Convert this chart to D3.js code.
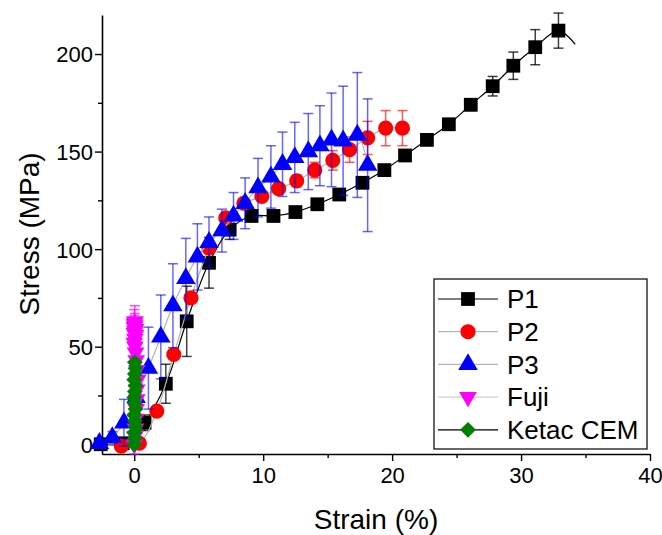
<!DOCTYPE html>
<html>
<head>
<meta charset="utf-8">
<script src="https://cdn.jsdelivr.net/npm/d3@7"></script>
<style>
  body { margin: 0; background: #fff; }
  text { font-family: "Liberation Sans", Arial, sans-serif; }
</style>
</head>
<body>
<div id="chart-container"></div>
<script>
// values (strain %, stress MPa, +/- error)
const p1Strain = [-2.6, -0.9, 0.8, 2.45, 4.07, 5.8, 7.4, 9.1, 10.8, 12.5, 14.2, 15.9, 17.7, 19.4, 21.0, 22.7, 24.4, 26.1, 27.8, 29.4, 31.1, 32.9];
const p1Stress = [0, 0.5, 11, 31, 63, 93, 110, 117, 117, 119, 123, 128, 134, 140.5, 148, 156, 164, 174, 183.5, 194, 203.5, 212];
const p1Err    = [1, 1, 4, 10, 18, 13, 5, 2, 2, 2, 2, 2, 2, 2, 2, 2, 2, 3, 5, 7, 9, 9];
const p1Tail = { strain: 34.2, stress: 205 };

const p2Strain = [-1.0, 0.4, 1.75, 3.07, 4.4, 5.8, 7.1, 8.5, 9.9, 11.2, 12.6, 14.0, 15.4, 16.7, 18.1, 19.5, 20.8];
const p2Stress = [-1, 0.5, 17, 46, 75, 100.5, 116, 123.5, 127, 131, 135, 140.5, 145.5, 151, 157, 162, 162];
const p2Err    = [1, 1, 2, 2, 2, 2, 2, 2, 2, 2, 3, 4, 5, 6.5, 8.5, 9, 9];

const p3Strain = [-2.7, -1.7, -0.8, 0.15, 1.1, 2.06, 3.0, 4.0, 4.9, 5.8, 6.8, 7.7, 8.6, 9.6, 10.6, 11.5, 12.45, 13.5, 14.4, 15.3, 16.2, 17.3, 18.1];
const p3Stress = [0.5, 3.5, 11, 24, 39, 55, 71, 85, 96, 103.5, 109.5, 117, 123.5, 131.5, 137, 143.5, 147, 150, 153, 156, 155.5, 158.5, 143];
const p3Err    = [1, 3, 12, 14, 21, 21.5, 21.5, 20.5, 17, 13, 11, 12, 13, 15, 16, 16.5, 18, 19.5, 20.5, 24, 28, 32, 34];

const fujiStrain = [0.0, 0.05, 0.1, 0.1, 0.15, 0.2, 0.2, 0.25, 0.2, 0.15, 0.1, 0.05, 0.0, 0.05, 0.1, 0.0, 0.05, 0.1, 0.0, 0.05, 0.0, 0.05];
const fujiStress = [0, 4, 8, 13, 18, 23, 28, 33, 38, 43, 47, 50, 52, 54, 56, 57, 58, 59, 60, 61, 62, 63];
const fujiErr    = [5, 2, 2, 2, 2, 2, 2, 2, 2, 2, 3, 3, 3, 4, 4, 4, 5, 5, 6, 6, 7, 8];

const ketacStrain = [0.0, 0.05, 0.0, 0.1, 0.05, 0.0, 0.1, 0.05, 0.0, 0.05, 0.1, 0.0, 0.05, 0.1, 0.05];
const ketacStress = [0, 3, 6, 9, 12, 15, 18, 21, 24, 27, 30, 33, 36, 39, 42];

const xTicks = [0, 10, 20, 30, 40];
const xMinor = [5, 15, 25, 35];
const yTicks = [0, 50, 100, 150, 200];
const yMinor = [25, 75, 125, 175];

const seriesNames = ["P1", "P2", "P3", "Fuji", "Ketac CEM"];

const W = 662, H = 535;
const svg = d3.select("#chart-container")
  .append("svg")
  .attr("width", W)
  .attr("height", H);

const x = d3.scaleLinear().domain([-2.5, 40]).range([102, 650]);
const y = d3.scaleLinear().domain([-5, 220]).range([454, 15]);

const zip = (xs, ys, es) => xs.map((v, i) => ({ x: v, y: ys[i], e: es ? es[i] : 0 }));
const p1 = zip(p1Strain, p1Stress, p1Err);
const p2 = zip(p2Strain, p2Stress, p2Err);
const p3 = zip(p3Strain, p3Stress, p3Err);
const fuji = zip(fujiStrain, fujiStress, fujiErr);
const ketac = zip(ketacStrain, ketacStress, null);

const series = [
  { name: "P1", data: p1, line: p1.concat([{ x: p1Tail.strain, y: p1Tail.stress }]), lineColor: "#000", fill: "#000",
    symbol: d3.symbolSquare, size: 190, rot: 0, errColor: "rgba(0,0,0,0.75)", curve: d3.curveCatmullRom },
  { name: "P2", data: p2, line: p2, lineColor: "#b4b4b4", fill: "#ff0000",
    symbol: d3.symbolCircle, size: 180, rot: 0, errColor: "rgba(255,0,0,0.65)", curve: d3.curveCatmullRom },
  { name: "P3", data: p3, line: p3, lineColor: "#b4b4b4", fill: "#0000ff",
    symbol: d3.symbolTriangle, size: 165, rot: 0, errColor: "rgba(0,0,255,0.6)", curve: d3.curveCatmullRom },
  { name: "Fuji", data: fuji, line: fuji, lineColor: "#d0d0d0", fill: "#ff00ff",
    symbol: d3.symbolTriangle, size: 135, rot: 180, errColor: "rgba(255,0,255,0.7)", curve: d3.curveLinear },
  { name: "Ketac CEM", data: ketac, line: ketac, lineColor: "#000", fill: "#008000",
    symbol: d3.symbolSquare, size: 125, rot: 45, errColor: "none", curve: d3.curveLinear }
];

// axes
const yAxis = svg.append("g").attr("transform", "translate(102,0)")
  .call(d3.axisLeft(y).tickValues(yTicks).tickSize(7).tickSizeOuter(0));
svg.append("g").attr("transform", "translate(102,0)")
  .call(d3.axisLeft(y).tickValues(yMinor).tickSize(4).tickFormat("").tickSizeOuter(0))
  .select(".domain").remove();
const xAxis = svg.append("g").attr("transform", "translate(0,454)")
  .call(d3.axisBottom(x).tickValues(xTicks).tickSize(7).tickSizeOuter(0));
svg.append("g").attr("transform", "translate(0,454)")
  .call(d3.axisBottom(x).tickValues(xMinor).tickSize(4).tickFormat("").tickSizeOuter(0))
  .select(".domain").remove();

svg.selectAll(".domain").attr("stroke-width", 1.6);
svg.selectAll(".tick line").attr("stroke-width", 1.4);
yAxis.selectAll(".tick text").style("font-size", "22px").attr("fill", "#000").attr("x", -9).attr("dy", "0.36em");
xAxis.selectAll(".tick text").style("font-size", "22px").attr("fill", "#000").attr("y", 13);

svg.append("text")
  .attr("transform", "rotate(-90)")
  .attr("x", -234)
  .attr("y", 39)
  .style("text-anchor", "middle")
  .style("font-size", "28px")
  .text("Stress (MPa)");

svg.append("text")
  .attr("x", 376)
  .attr("y", 529)
  .style("text-anchor", "middle")
  .style("font-size", "28px")
  .text("Strain (%)");

// lines, error bars, markers
series.forEach(s => {
  const g = svg.append("g");
  g.append("path")
    .datum(s.line)
    .attr("fill", "none")
    .attr("stroke", s.lineColor)
    .attr("stroke-width", 1.2)
    .attr("d", d3.line().x(d => x(d.x)).y(d => y(d.y)).curve(s.curve));

  const eb = g.selectAll(".err").data(s.data.filter(d => d.e > 0)).join("g")
    .attr("stroke", s.errColor).attr("stroke-width", 1.5);
  eb.append("line").attr("x1", d => x(d.x)).attr("x2", d => x(d.x))
    .attr("y1", d => y(d.y - d.e)).attr("y2", d => y(d.y + d.e));
  eb.append("line").attr("x1", d => x(d.x) - 5).attr("x2", d => x(d.x) + 5)
    .attr("y1", d => y(d.y + d.e)).attr("y2", d => y(d.y + d.e));
  eb.append("line").attr("x1", d => x(d.x) - 5).attr("x2", d => x(d.x) + 5)
    .attr("y1", d => y(d.y - d.e)).attr("y2", d => y(d.y - d.e));

  g.selectAll(".pt").data(s.data).join("path")
    .attr("d", d3.symbol().type(s.symbol).size(s.size))
    .attr("transform", d => `translate(${x(d.x)},${y(d.y)}) rotate(${s.rot})`)
    .attr("fill", s.fill);
});

// legend
const legend = svg.append("g");
legend.append("rect")
  .attr("x", 434).attr("y", 279).attr("width", 213).attr("height", 170)
  .attr("fill", "#fff").attr("stroke", "#000").attr("stroke-width", 1.2);
series.forEach((s, i) => {
  const ly = 299 + i * 32.7;
  legend.append("line").attr("x1", 438).attr("x2", 498).attr("y1", ly).attr("y2", ly)
    .attr("stroke", s.lineColor).attr("stroke-width", 1.2);
  legend.append("path")
    .attr("d", d3.symbol().type(s.symbol).size(s.size))
    .attr("transform", `translate(468,${ly}) rotate(${s.rot})`)
    .attr("fill", s.fill);
  legend.append("text").attr("x", 507).attr("y", ly).attr("dy", "0.36em")
    .style("font-size", "26px").text(seriesNames[i]);
});
</script>
</body>
</html>
